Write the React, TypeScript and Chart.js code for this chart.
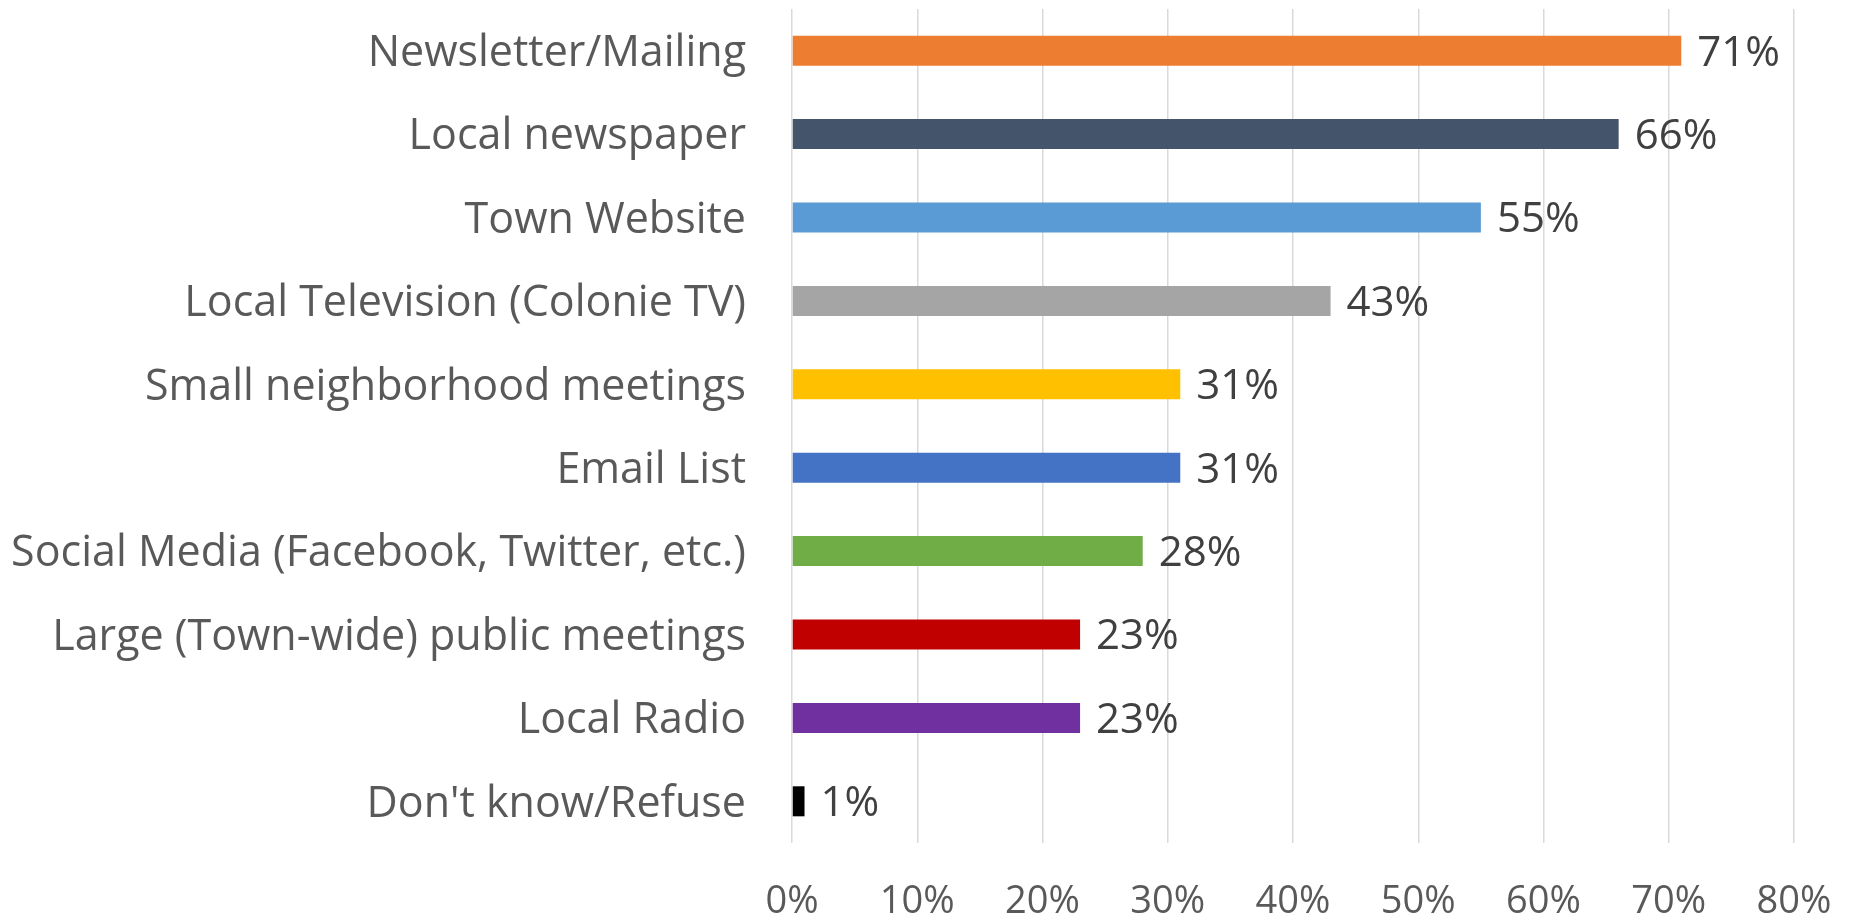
import React, { useEffect, useRef } from "react";
import Chart from "chart.js/auto";

const categories = [
  "Newsletter/Mailing",
  "Local newspaper",
  "Town Website",
  "Local Television (Colonie TV)",
  "Small neighborhood meetings",
  "Email List",
  "Social Media (Facebook, Twitter, etc.)",
  "Large (Town-wide) public meetings",
  "Local Radio",
  "Don't know/Refuse",
];
const values = [71, 66, 55, 43, 31, 31, 28, 23, 23, 1];
const barColors = [
  "#ED7D31",
  "#44546A",
  "#5B9BD5",
  "#A5A5A5",
  "#FFC000",
  "#4472C4",
  "#70AD47",
  "#C00000",
  "#7030A0",
  "#000000",
];
const xTicks = [0, 10, 20, 30, 40, 50, 60, 70, 80];

const FONT = "'Open Sans', Lato, sans-serif";

const labelPlugin = {
  id: "barValueLabels",
  afterDatasetsDraw(chart: any) {
    const ctx = chart.ctx;
    const meta = chart.getDatasetMeta(0);
    ctx.save();
    ctx.font = `42px ${FONT}`;
    ctx.fillStyle = "#404040";
    ctx.textAlign = "left";
    ctx.textBaseline = "middle";
    meta.data.forEach((bar: any, i: number) => {
      ctx.fillText(values[i] + "%", bar.x + 16, bar.y + 3);
    });
    ctx.restore();
  },
};

export default function App() {
  const ref = useRef<HTMLCanvasElement>(null);
  useEffect(() => {
    document.body.style.margin = "0";
    const chart = new Chart(ref.current!, {
      type: "bar",
      data: {
        labels: categories,
        datasets: [
          {
            data: values,
            backgroundColor: barColors,
            barPercentage: 0.36,
            categoryPercentage: 1,
          },
        ],
      },
      options: {
        indexAxis: "y",
        responsive: false,
        animation: false,
        layout: { padding: { left: 0, right: 57, top: 9, bottom: 0 } },
        plugins: { legend: { display: false }, tooltip: { enabled: false } },
        scales: {
          x: {
            min: 0,
            max: 80,
            afterBuildTicks(scale: any) {
              scale.ticks = xTicks.map((v) => ({ value: v }));
            },
            afterFit(scale: any) {
              scale.height = 916 - 843;
              scale.paddingLeft = 0;
              scale.paddingRight = 0;
            },
            grid: { color: "#D9D9D9", lineWidth: 1.5, drawTicks: false },
            border: { display: false },
            ticks: {
              padding: 36,
              color: "#595959",
              font: { family: FONT, size: 38 },
              maxRotation: 0,
              callback: (v: any) => v + "%",
            },
          },
          y: {
            afterFit(scale: any) {
              scale.width = 792;
              scale.paddingTop = 0;
              scale.paddingBottom = 0;
            },
            grid: { display: false, drawTicks: false },
            border: { display: false },
            ticks: {
              padding: 46,
              labelOffset: 3,
              color: "#595959",
              font: { family: FONT, size: 43 },
            },
          },
        },
      },
      plugins: [labelPlugin],
    });
    return () => chart.destroy();
  }, []);
  return <canvas ref={ref} width={1851} height={916} style={{ display: "block" }} />;
}
